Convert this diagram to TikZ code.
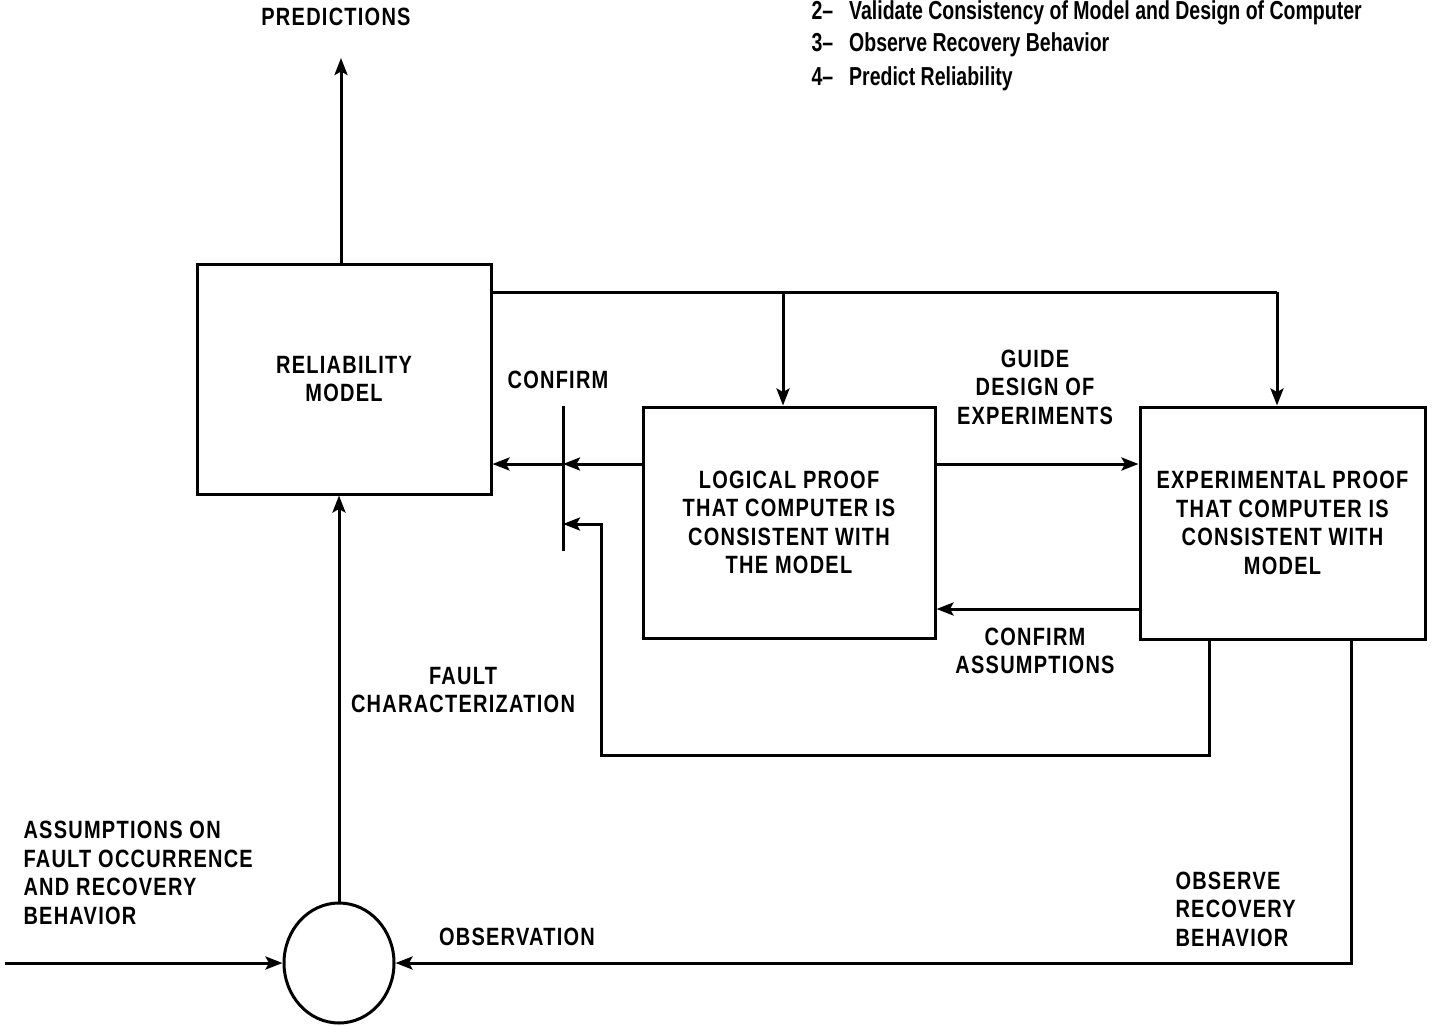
\documentclass[tikz,border=0pt]{standalone}
\usepackage{fontspec}
\usetikzlibrary{arrows.meta,shapes.geometric}
\newfontfamily\lblfont{Liberation Sans}[FakeStretch=0.8,LetterSpace=5]
\newfontfamily\legfont{Liberation Sans}[FakeStretch=0.75]
\begin{document}
\begin{tikzpicture}[x=1pt,y=-1pt,
  line width=3pt,
  arr/.style={-{Stealth[length=17pt,width=13pt,inset=3.5pt]}},
  box/.style={draw,rectangle,align=center,inner sep=0pt},
  lbl/.style={font=\lblfont\bfseries\fontsize{25}{28.5}\selectfont,align=center,inner sep=0pt},
  leg/.style={font=\legfont\bfseries\fontsize{26}{30}\selectfont,inner sep=0pt,anchor=base west}]
\useasboundingbox (0,0) rectangle (1434,1025);
% boxes
\node[box,lbl,minimum width=294pt,minimum height=230pt] (rm) at (344,379) {RELIABILITY\\MODEL};
\node[box,lbl,minimum width=292pt,minimum height=231pt] (lp) at (789,522.5) {LOGICAL PROOF\\THAT COMPUTER IS\\CONSISTENT WITH\\THE MODEL};
\node[box,lbl,minimum width=285pt,minimum height=232pt] (ep) at (1282.5,523) {EXPERIMENTAL PROOF\\THAT COMPUTER IS\\CONSISTENT WITH\\MODEL};
\node[draw,ellipse,minimum width=110pt,minimum height=120pt,inner sep=0pt] (circ) at (339,963) {};
% labels
\node[lbl] (pred) at (336,17) {PREDICTIONS};
\node[lbl] (conf) at (558,380) {CONFIRM};
\node[lbl] (guide) at (1035,387) {GUIDE\\DESIGN OF\\EXPERIMENTS};
\node[lbl] (confas) at (1035,651) {CONFIRM\\ASSUMPTIONS};
\node[lbl] (fault) at (463,690) {FAULT\\CHARACTERIZATION};
\node[lbl,align=left,anchor=west] (assum) at (22,873) {ASSUMPTIONS ON\\FAULT OCCURRENCE\\AND RECOVERY\\BEHAVIOR};
\node[lbl] (obs) at (517,937) {OBSERVATION};
\node[lbl,align=left,anchor=west] (obsrec) at (1174,909) {OBSERVE\\RECOVERY\\BEHAVIOR};
% legend
\node[leg] (l2) at (810,20) {2–\hspace{16pt}Validate Consistency of Model and Design of Computer};
\node[leg] (l3) at (810,52) {3–\hspace{16pt}Observe Recovery Behavior};
\node[leg] (l4) at (810,85) {4–\hspace{16pt}Predict Reliability};
% coordinates
\coordinate (ptip) at (341,58);
\coordinate (j1) at (783,292);
\coordinate (j2) at (1277,292);
\coordinate (bt) at (563,406);
\coordinate (bb) at (563,551);
\coordinate (b1) at (563,464);
\coordinate (b2) at (563,524);
\coordinate (f1) at (601,755);
\coordinate (fx) at (1209,0);
\coordinate (ox) at (1351,0);
\coordinate (ca) at (0,609);
\coordinate (inp) at (5,963);
% connectors
\draw[arr] (rm.north -| ptip) -- (ptip);
\draw (rm.east |- j1) -- (j2);
\draw[arr] (j1) -- (lp.north -| j1);
\draw[arr] (j2) -- (ep.north -| j2);
\draw (bt) -- (bb);
\draw[arr] (lp.west |- b1) -- (b1);
\draw[arr] (b1) -- (rm.east |- b1);
\draw[arr] (ep.south -| fx) |- (f1) |- (b2);
\draw[arr] (lp.east |- b1) -- (ep.west |- b1);
\draw[arr] (ep.west |- ca) -- (lp.east |- ca);
\draw[arr] (ep.south -| ox) |- (circ.east);
\draw[arr] (inp) -- (circ.west);
\draw[arr] (circ.north) -- (rm.south -| circ.north);
\end{tikzpicture}
\end{document}
